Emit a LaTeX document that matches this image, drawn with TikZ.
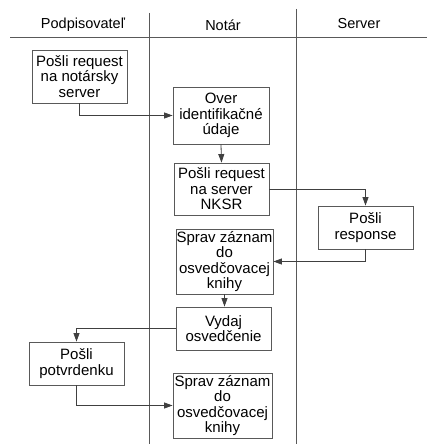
\documentclass[tikz,border=0pt]{standalone}
\usepackage{fontspec}
\setmainfont{Liberation Sans}
\usetikzlibrary{arrows.meta}
\begin{document}
\begin{tikzpicture}[x=1pt,y=-1pt,
  lane/.style={draw=black!65,line width=0.8pt},
  box/.style={draw=black!65,line width=0.9pt,rectangle,align=center,inner sep=0pt,
    font=\fontsize{15}{15.4}\selectfont},
  head/.style={font=\fontsize{14.5}{15}\selectfont,inner sep=0pt},
  flow/.style={draw=black!75,line width=0.8pt,-{Triangle[length=8.5pt,width=6pt]}}]
\fill[white] (0,0) rectangle (427,444);
\useasboundingbox (0,0) rectangle (427,444);

% swimlane separators
\coordinate (hl) at (10,37);
\coordinate (hr) at (427,37);
\coordinate (l1t) at (149.5,13);
\coordinate (l1b) at (149.5,444);
\coordinate (l2t) at (296,9);
\coordinate (l2b) at (296,444);
\draw[lane] (hl) -- (hr);
\draw[lane] (l1t) -- (l1b);
\draw[lane] (l2t) -- (l2b);

% lane headers
\node[head] (h1) at (83,25) {Podpisovateľ};
\node[head] (h2) at (223,25) {Notár};
\node[head] (h3) at (359,24) {Server};

% activities
\node[box,minimum width=95pt,minimum height=53pt] (b1) at (79.5,76.5) {Pošli request\\na notársky\\server};
\node[box,minimum width=96pt,minimum height=57pt] (b2) at (221,115.5) {Over\\identifikačné\\údaje};
\node[box,minimum width=95pt,minimum height=52pt] (b3) at (221.5,189) {Pošli request\\na server\\NKSR};
\node[box,minimum width=95pt,minimum height=43pt] (b4) at (365.5,227.5) {Pošli\\response};
\node[box,minimum width=97pt,minimum height=65pt] (b5) at (224.5,261.5) {Sprav záznam\\do\\osvedčovacej\\knihy};
\node[box,minimum width=95pt,minimum height=43pt] (b6) at (223.5,328.5) {Vydaj\\osvedčenie};
\node[box,minimum width=95pt,minimum height=43pt] (b7) at (76.5,363.5) {Pošli\\potvrdenku};
\node[box,minimum width=99pt,minimum height=65pt] (b8) at (222.5,405.5) {Sprav záznam\\do\\osvedčovacej\\knihy};

% control flow
\draw[flow] (b1.south) |- (b2.west);
\draw[flow] (b2.south) -- (b3.north);
\draw[flow] (b3.east) -| (b4.north);
\draw[flow] (b4.south) |- (b5.east);
\draw[flow] (b5.south) -- (b5.south |- b6.north);
\draw[flow] (b6.west) -| (b7.north);
\draw[flow] (b7.south) |- (b8.west);
\end{tikzpicture}
\end{document}
